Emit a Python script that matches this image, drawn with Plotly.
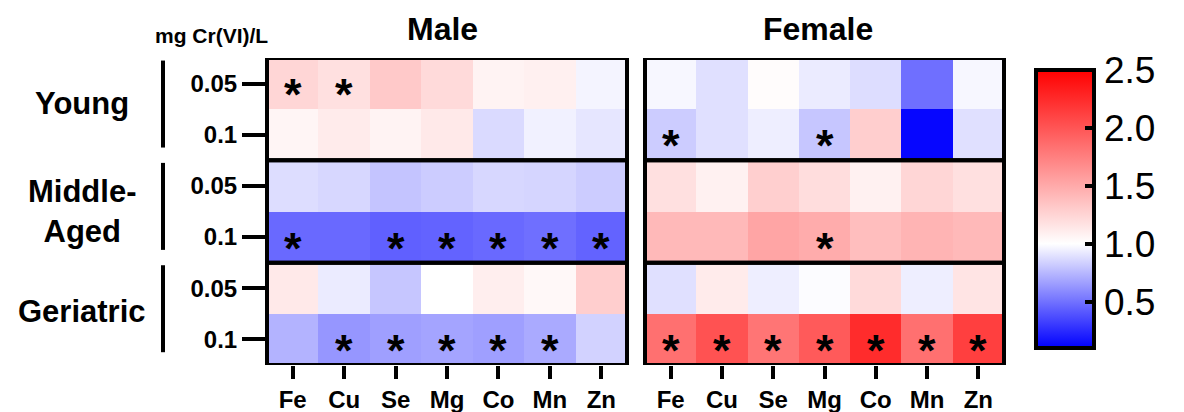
import plotly.graph_objects as go

elements = ["Fe", "Cu", "Se", "Mg", "Co", "Mn", "Zn"]
groups = ["Young", "Middle-<br>Aged", "Geriatric"]
doses = ["0.05", "0.1"]
row_labels = doses * 3

male = [
    [1.24, 1.18, 1.32, 1.22, 1.07, 1.09, 0.96],
    [1.06, 1.12, 1.07, 1.13, 0.87, 0.95, 0.91],
    [0.88, 0.86, 0.79, 0.82, 0.86, 0.85, 0.82],
    [0.47, 0.47, 0.44, 0.45, 0.47, 0.49, 0.45],
    [1.13, 0.93, 0.80, 1.00, 1.10, 1.04, 1.29],
    [0.73, 0.63, 0.66, 0.68, 0.66, 0.70, 0.84],
]
female = [
    [0.97, 0.89, 1.02, 0.93, 0.88, 0.49, 0.97],
    [0.82, 0.89, 0.94, 0.80, 1.29, 0.12, 0.89],
    [1.18, 1.08, 1.28, 1.20, 1.08, 1.24, 1.18],
    [1.41, 1.41, 1.53, 1.49, 1.38, 1.44, 1.41],
    [0.89, 1.12, 0.94, 0.99, 1.22, 0.94, 1.16],
    [1.84, 2.02, 1.81, 1.97, 2.24, 1.84, 2.13],
]
male_sig = [
    [1, 1, 0, 0, 0, 0, 0],
    [0, 0, 0, 0, 0, 0, 0],
    [0, 0, 0, 0, 0, 0, 0],
    [1, 0, 1, 1, 1, 1, 1],
    [0, 0, 0, 0, 0, 0, 0],
    [0, 1, 1, 1, 1, 1, 0],
]
female_sig = [
    [0, 0, 0, 0, 0, 0, 0],
    [1, 0, 0, 1, 0, 0, 0],
    [0, 0, 0, 0, 0, 0, 0],
    [0, 0, 0, 1, 0, 0, 0],
    [0, 0, 0, 0, 0, 0, 0],
    [1, 1, 1, 1, 1, 1, 1],
]
cbar_ticks = [0.5, 1.0, 1.5, 2.0, 2.5]
zmin, zmax, zmid = 0.1, 2.5, 1.0

W, H = 1184, 412
OFF = 8  # page body margin
FONT = "Liberation Sans, Arial, sans-serif"
mid = (zmid - zmin) / (zmax - zmin)
cscale = [[0, "rgb(0,0,255)"], [mid, "rgb(255,255,255)"], [1, "rgb(255,0,0)"]]
rows = list(range(len(row_labels)))

def px(x):
    return (x - OFF) / W

def py(y):
    return 1 - (y - OFF) / H

# colorbar geometry (reference pixels)
CB_L, CB_R, CB_T, CB_B = 1036, 1094, 70, 348
cb_len = (CB_B - CB_T) / H
cb_bottom = py(CB_B)

fig = go.Figure()
fig.add_trace(go.Heatmap(z=male, x=elements, y=rows, colorscale=cscale,
                         zmin=zmin, zmax=zmax, xaxis="x", yaxis="y",
                         showscale=False))
fig.add_trace(go.Heatmap(z=female, x=elements, y=rows, colorscale=cscale,
                         zmin=zmin, zmax=zmax, xaxis="x2", yaxis="y2",
                         showscale=True,
                         colorbar=dict(x=px(CB_L), xanchor="left", xpad=0, ypad=0,
                                       y=cb_bottom, yanchor="bottom",
                                       len=cb_len, lenmode="fraction",
                                       thickness=CB_R - CB_L, thicknessmode="pixels",
                                       outlinewidth=4, outlinecolor="black",
                                       tickvals=cbar_ticks,
                                       ticktext=[f"{t:.1f}" for t in cbar_ticks],
                                       ticks="inside", ticklen=11, tickwidth=4,
                                       tickcolor="black",
                                       tickfont=dict(family=FONT, size=37, color="black"))))

y_dom = [py(365), py(58)]
xaxis_common = dict(showgrid=False, zeroline=False, ticks="outside", ticklen=13,
                    tickwidth=3.5, tickcolor="black", showline=False,
                    tickfont=dict(family=FONT, size=24, color="black", weight="bold"),
                    fixedrange=True)
yaxis_common = dict(showgrid=False, zeroline=False, range=[5.5, -0.5],
                    tickvals=rows, fixedrange=True)

fig.update_layout(
    width=W, height=H, margin=dict(l=0, r=0, t=0, b=0),
    paper_bgcolor="white", plot_bgcolor="white", showlegend=False,
    xaxis=dict(domain=[px(267), px(627)], anchor="y", **xaxis_common),
    xaxis2=dict(domain=[px(645), px(1004)], anchor="y2", **xaxis_common),
    yaxis=dict(domain=y_dom, anchor="x", ticktext=row_labels, ticks="outside",
               ticklen=24, tickwidth=3.5, tickcolor="black",
               tickfont=dict(family=FONT, size=24, color="black", weight="bold"),
               **yaxis_common),
    yaxis2=dict(domain=y_dom, anchor="x2", showticklabels=False, ticks="",
                **yaxis_common),
)

shapes = []
for xr, yr in [("x domain", "y"), ("x2 domain", "y2")]:
    for g in range(len(groups)):
        shapes.append(dict(type="rect", xref=xr, yref=yr, x0=0, x1=1,
                           y0=2 * g - 0.5, y1=2 * g + 1.5,
                           line=dict(color="black", width=4)))
for g in range(len(groups)):
    shapes.append(dict(type="line", xref="paper", yref="y",
                       x0=px(163), x1=px(163), y0=2 * g - 0.45, y1=2 * g + 1.25,
                       line=dict(color="black", width=4)))
# inner ticks on the left side of the colorbar
for t in cbar_ticks[:-1]:
    yy = cb_bottom + (t - zmin) / (zmax - zmin) * cb_len
    shapes.append(dict(type="line", xref="paper", yref="paper",
                       x0=px(CB_L), x1=px(CB_L + 13), y0=yy, y1=yy,
                       line=dict(color="black", width=4)))
fig.update_layout(shapes=shapes)

ann = []
# significance asterisks
for sig, xa, ya in [(male_sig, "x", "y"), (female_sig, "x2", "y2")]:
    for r, row in enumerate(sig):
        for c, v in enumerate(row):
            if v:
                ann.append(dict(x=elements[c], y=r, xref=xa, yref=ya, text="*",
                                showarrow=False, xanchor="center", yanchor="middle",
                                yshift=-11,
                                font=dict(family=FONT, size=45, color="black",
                                          weight="bold")))
label_shift = [6, 0, 2]
for g, name in enumerate(groups):
    ann.append(dict(x=px(82), xref="paper", y=2 * g + 0.5, yref="y", text=name,
                    showarrow=False, xanchor="center", yanchor="middle",
                    yshift=label_shift[g],
                    font=dict(family=FONT, size=31, color="black", weight="bold")))
ann.append(dict(x=px(211), y=py(36), xref="paper", yref="paper", text="mg Cr(VI)/L",
                showarrow=False, xanchor="center", yanchor="middle",
                font=dict(family=FONT, size=21, color="black", weight="bold")))
for title, cx in [("Male", 442), ("Female", 818)]:
    ann.append(dict(x=px(cx), y=py(29), xref="paper", yref="paper", text=title,
                    showarrow=False, xanchor="center", yanchor="middle",
                    font=dict(family=FONT, size=32, color="black", weight="bold")))
fig.update_layout(annotations=ann)

fig.write_html("out.html")
